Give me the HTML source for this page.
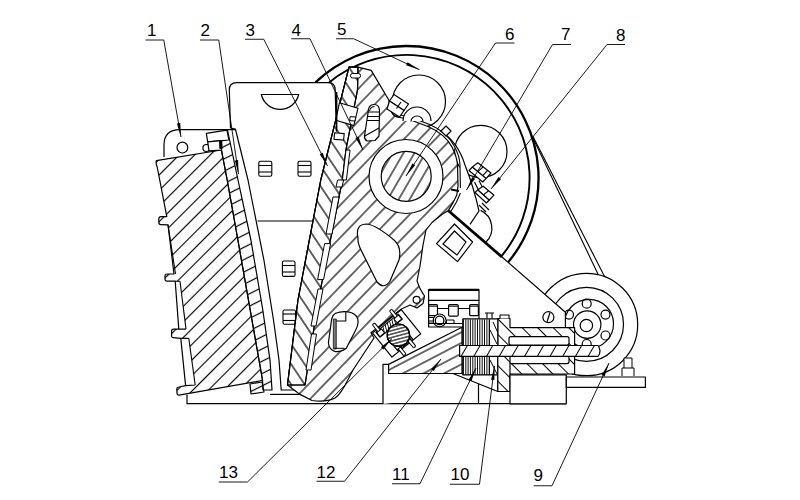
<!DOCTYPE html><html><head><meta charset="utf-8"><style>html,body{margin:0;padding:0;background:#fff;}svg{display:block;}</style></head><body>
<svg width="800" height="500" viewBox="0 0 800 500">
<defs><pattern id="hA" patternUnits="userSpaceOnUse" width="11" height="11" patternTransform="rotate(45) translate(10.748304065640582,0)"><line x1="5.5" y1="-1" x2="5.5" y2="12" stroke="#000" stroke-width="1.15"/></pattern><pattern id="hP" patternUnits="userSpaceOnUse" width="11.3" height="11.3" patternTransform="rotate(44) translate(8.66182700885522,0)"><line x1="5.65" y1="-1" x2="5.65" y2="12.3" stroke="#000" stroke-width="1.15"/></pattern><pattern id="h3" patternUnits="userSpaceOnUse" width="11.2" height="11.2" patternTransform="rotate(-33.7) translate(0.9572872405119526,0)"><line x1="5.6" y1="-1" x2="5.6" y2="12.2" stroke="#000" stroke-width="1.2"/></pattern><pattern id="h2" patternUnits="userSpaceOnUse" width="11" height="11" patternTransform="rotate(63.4) translate(5.8751051131268355,0)"><line x1="5.5" y1="-1" x2="5.5" y2="12" stroke="#000" stroke-width="1.2"/></pattern><pattern id="hS" patternUnits="userSpaceOnUse" width="9.5" height="9.5" patternTransform="rotate(30) translate(3.2054211030639976,0)"><line x1="4.75" y1="-1" x2="4.75" y2="10.5" stroke="#000" stroke-width="1.15"/></pattern><pattern id="hH" patternUnits="userSpaceOnUse" width="3.3" height="3.3" patternTransform="rotate(75) translate(0,0)"><line x1="1.65" y1="-1" x2="1.65" y2="4.3" stroke="#000" stroke-width="1.1"/></pattern><pattern id="hW" patternUnits="userSpaceOnUse" width="9.5" height="9.5" patternTransform="rotate(62.5) translate(8.974078355794745,0)"><line x1="4.75" y1="-1" x2="4.75" y2="10.5" stroke="#000" stroke-width="1.15"/></pattern><pattern id="hT" patternUnits="userSpaceOnUse" width="2.6" height="2.6" patternTransform="rotate(25) translate(0,0)"><line x1="1.3" y1="-1" x2="1.3" y2="3.6" stroke="#000" stroke-width="0.9"/></pattern><pattern id="hR" patternUnits="userSpaceOnUse" width="11" height="11" patternTransform="rotate(-45) translate(0,0)"><line x1="5.5" y1="-1" x2="5.5" y2="12" stroke="#000" stroke-width="1.0"/></pattern><pattern id="hQ" patternUnits="userSpaceOnUse" width="11" height="11" patternTransform="rotate(30) translate(0,0)"><line x1="5.5" y1="-1" x2="5.5" y2="12" stroke="#000" stroke-width="1.0"/></pattern></defs>
<rect width="800" height="500" fill="#fff"/>
<g fill="none" stroke="#000" stroke-width="1.2" stroke-linejoin="round">
<!-- flywheel -->
<path d="M315.5,82.4 A132,132 0 0,1 508.1,262.3" stroke-width="2.3"/>
<path d="M329.1,82.4 A123,123 0 0,1 501.3,256.4" stroke-width="1.9"/>
<!-- circles inside flywheel -->
<circle cx="419" cy="101.5" r="26.5"/>
<circle cx="480.8" cy="151.5" r="26.2"/>
<!-- belt -->
<line x1="532" y1="136" x2="607.5" y2="294" stroke-width="1.1"/>
<line x1="533" y1="136.5" x2="613.5" y2="294" stroke-width="1.1"/>
<!-- motor pulley -->
<circle cx="586.5" cy="324.5" r="51.2" fill="#fff"/>
<circle cx="586.5" cy="324.3" r="37" />
<circle cx="589" cy="323.8" r="24.5"/>
<circle cx="587.2" cy="324.6" r="13.7"/>
<circle cx="586.4" cy="325.5" r="6.2"/>
<circle cx="586.7" cy="303.7" r="4.5"/>
<circle cx="605.5" cy="314.6" r="4.5"/>
<circle cx="605.5" cy="335.5" r="4.5"/>
<circle cx="569" cy="314.6" r="4.5"/>
<circle cx="586.7" cy="344" r="4.5"/>
</g>
<!-- frame right side plate (white) -->
<path d="M447,209.5 L502,257 L565.4,312.2 L565.4,329 L430,329 L420,280 L426,230 Z" fill="#fff" stroke="none"/>
<!-- bearing bracket white region -->
<path d="M437,129 Q458,142 465,165 Q474,188 479,211 L470,224.4 L449,211 L458.5,189 L460,163 Q457,150 450,141 Z" fill="#fff" stroke="none"/>
<g fill="none" stroke="#000" stroke-width="1.2" stroke-linejoin="round">
<path d="M440,130.5 Q458,142 465,165 Q474,188 479,211 L470,224.4"/>
<path d="M480.6,210.4 A19.5,19.5 0 0,1 486,242"/>
<path d="M447,209.5 L502,257" stroke-width="2.8"/>
<path d="M502,257 L565.4,312.2 L565.4,328"/>
<circle cx="548.4" cy="317.2" r="5.5" fill="#fff"/>
<line x1="547" y1="322" x2="550" y2="312.5"/>
<!-- diamond -->
<path d="M436.5,243.6 L454.5,224 L472.6,242 L457.5,261.6 Z" fill="#fff"/>
<path d="M443,244 L454.5,231 L466,242 L457,255 Z"/>
<!-- bolts 7/8 -->
<g fill="#fff" stroke-width="1.15">
<path d="M469,170.5 L472.4,167 L486.2,178.4 L482.8,182 Z"/>
<path d="M472.4,167 L477.8,162.8 L491,173 L486.2,178.4 Z"/>
<line x1="477.9" y1="171.6" x2="483.1" y2="166.9"/><line x1="482.75" y1="175.55" x2="487.7" y2="170.45"/>
<path d="M474.5,182 L478,189 M479,180.5 L482.5,187.5" fill="none"/>
<path d="M475,192.5 L477.8,189.8 L489.2,200 L486.4,203 Z"/>
<path d="M477.8,189.8 L483.2,186.2 L494,195.2 L489.2,200 Z"/>
<line x1="483.5" y1="194.9" x2="488.6" y2="190.7"/>
<path d="M479,205 L486,212 M482,203 L489,210" fill="none"/>
</g>
</g>
</g>
<g fill="none" stroke="#000" stroke-width="1.2" stroke-linejoin="round">
<!-- side plate (unhatched) -->
<path d="M229.3,90 Q229.3,82.6 236.5,82.6 L328,82.6 Q335.2,82.8 335.2,90 L336.3,131 L313.5,221 L296,390 L281.2,390 L279,360 L273.5,320 L268.7,290 L263.9,260 L248,180 L235.4,129 L230.5,128 Z" fill="#fff"/>
<line x1="257.5" y1="221" x2="313.5" y2="221"/>
<path d="M261.3,94.5 L298.7,94.5 A19.2,19.2 0 0,1 261.3,94.5 Z"/>
<g stroke-width="1.1">
<rect x="258.8" y="161.3" width="13" height="15" rx="1.5"/><line x1="258.8" y1="165.5" x2="271.8" y2="165.5"/><line x1="258.8" y1="172" x2="271.8" y2="172"/>
<rect x="298" y="161.3" width="13" height="15" rx="1.5"/><line x1="298" y1="165.5" x2="311" y2="165.5"/><line x1="298" y1="172" x2="311" y2="172"/>
<rect x="282.4" y="261" width="12.6" height="15.4" rx="1.5"/><line x1="282.4" y1="265.5" x2="295" y2="265.5"/><line x1="282.4" y1="272" x2="295" y2="272"/>
<rect x="283" y="310" width="12.5" height="14.2" rx="1.5"/><line x1="283" y1="314" x2="295.5" y2="314"/><line x1="283" y1="320.5" x2="295.5" y2="320.5"/>
</g>
</g>
<g stroke="#000" stroke-width="1.2" stroke-linejoin="round">
<!-- fixed jaw ear -->
<path d="M164,157 L164,145 Q164,129.6 180,129.6 L235.4,129.6" fill="none"/>
<circle cx="182.4" cy="147.6" r="5.4" fill="none"/>
<circle cx="206.4" cy="148" r="3.5" fill="none"/>
<!-- fixed jaw block hatched -->
<path d="M156.4,160.6 L221.4,150 L227.2,180 L237.9,240 L250.2,310 L262.5,380 L258.7,381.2 L179,395.2 Q177,395.2 177,393 L176.8,389 Q176.8,387.2 179,387 L185.6,385.6 L180.8,338.4 L173,337.6 Q171.6,337.5 171.6,336 L171.6,331 Q171.6,329.1 173.5,329.1 L178.8,329.1 L175.2,281.2 L167,281.2 Q165,281.2 165,279 L165,276 Q165,274 167,274 L174,274 L168,224.8 L160.8,224.6 Q158.8,224.6 158.8,222 L158.8,219 Q158.8,216.6 161,216.6 L166.8,216.6 L157.2,167 Q155.5,163 156.4,160.6 Z" fill="#fff" stroke="none"/>
<path d="M156.4,160.6 L221.4,150 L227.2,180 L237.9,240 L250.2,310 L262.5,380 L258.7,381.2 L179,395.2 Q177,395.2 177,393 L176.8,389 Q176.8,387.2 179,387 L195.2,385 L188.8,338.4 L173,337.6 Q171.6,337.5 171.6,336 L171.6,331 Q171.6,329.1 173.5,329.1 L186,329.1 L180,281.2 L167,281.2 Q165,281.2 165,279 L165,276 Q165,274 167,274 L175.5,274 L168,224.8 L160.8,224.6 Q158.8,224.6 158.8,222 L158.8,219 Q158.8,216.6 161,216.6 L166.8,216.6 L157.2,167 Q155.5,163 156.4,160.6 Z" fill="url(#hA)" stroke="none"/>
<path d="M156.4,160.6 L221.4,150 L227.2,180 L237.9,240 L250.2,310 L262.5,380 L258.7,381.2 L179,395.2 Q177,395.2 177,393 L176.8,389 Q176.8,387.2 179,387 L185.6,385.6 L180.8,338.4 L173,337.6 Q171.6,337.5 171.6,336 L171.6,331 Q171.6,329.1 173.5,329.1 L178.8,329.1 L175.2,281.2 L167,281.2 Q165,281.2 165,279 L165,276 Q165,274 167,274 L174,274 L168,224.8 L160.8,224.6 Q158.8,224.6 158.8,222 L158.8,219 Q158.8,216.6 161,216.6 L166.8,216.6 L157.2,167 Q155.5,163 156.4,160.6 Z" fill="none"/>
<path d="M168,224.8 L175.5,274 M180,281.2 L186,329.1 M186,329.1 L178.8,329.1 M188.8,338.4 L195.2,385 M185.6,385.6 L195.2,385 M175.2,281.2 L180,281.2 M180.8,338.4 L188.8,338.4" fill="none" stroke-width="1.1"/>
<!-- plate 2 strip -->
<path d="M219.8,141.6 L227.5,130 L238,180 L250.9,240 L262.8,310 L270,360 L272,390 L263,390 L262.5,380 L250.2,310 L237.9,240 L227.2,180 Z" fill="url(#h2)"/>
<!-- clamp rectangle at top -->
<path d="M206.3,133.4 L226.9,130.2 L228.9,140 L220,140.8 L207.7,141.8 Z" fill="#fff"/>
<path d="M207.7,141.8 L221,140.7 L221.6,150 L209,150.9 Z" fill="#fff"/>
<path d="M219.4,141 L221.8,140.8 L222.2,148.5 L219.8,148.7 Z" fill="#000" stroke-width="0.8"/>
<!-- bottom plate2 pieces -->
<path d="M250,384 L262,382 L264,392 L251,394 Z" fill="url(#h2)"/>
<path d="M270,394.4 L300,394.4" fill="none"/>
</g>
<g stroke="#000" stroke-width="1.2" stroke-linejoin="round">
<!-- base -->
<path d="M187,394.7 L187,403.7 L566,403.7" fill="none"/>
<!-- pitman body -->
<path d="M349,67.2 L358,67.2 L371.2,70.4 L388.8,100 L391,110 Q392,115 397,117 L408,119 L428,126.5 Q445,134 452,147 Q457,157 457.5,165 L458,186 L456.8,195 L452.6,203.4 L448.4,210.4 L442.5,214 L432,222.5 L426,230 L423,245 L420,266 L417,281 L420,288.6 L424.5,296 L423,303.6 L417,308 L410,305 L401.4,309 L371,332.6 L374,338 L353,370 C347,381 342,394 335,398 Q326,402.5 312,400.5 L300,394.4 L287.5,385 L298,300 L320.8,180 L349,67.2 Z" fill="#fff" stroke="none"/>
<path d="M349,67.2 L358,67.2 L371.2,70.4 L388.8,100 L391,110 Q392,115 397,117 L408,119 L428,126.5 Q445,134 452,147 Q457,157 457.5,165 L458,186 L456.8,195 L452.6,203.4 L448.4,210.4 L442.5,214 L432,222.5 L426,230 L423,245 L420,266 L417,281 L420,288.6 L424.5,296 L423,303.6 L417,308 L410,305 L401.4,309 L371,332.6 L374,338 L353,370 C347,381 342,394 335,398 Q326,402.5 312,400.5 L300,394.4 L287.5,385 L298,300 L320.8,180 L349,67.2 Z" fill="url(#hP)"/>
<circle cx="416.6" cy="299.8" r="3.5" fill="#fff"/>
<!-- strap inner line -->
<path d="M395,114 L409,116.8 L429,124.3 Q447,132 454.2,146 Q459.7,156 460,165 L460.4,188 M460.4,193 L456.5,202 L450.8,211.5" fill="none" stroke-width="1.1"/>
<path d="M451,189.5 L459,191" fill="none" stroke-width="2"/>
<!-- nut near pitman top -->
<path d="M389.5,101 L394,94.5 L408.5,104 L404,110.5 Z" fill="#fff"/>
<path d="M389.5,101 L404,110.5 L399.5,117 L387,109 Z" fill="#fff"/>
<line x1="401" y1="102" x2="396.5" y2="108.5"/>
<!-- washer -->
<path d="M403,121 A14,14 0 0,1 431,121" fill="#fff"/>
<path d="M411,121.5 A6,5.5 0 0,1 423,121.5" fill="none"/>
<!-- small square -->
<path d="M441,131 L446,126 L451,131 L446,136 Z" fill="#fff"/>
<!-- plate 3 -->
<path d="M349,67.2 L358,67.2 L357.5,90 L346,149.5 L342.4,180 L318.4,300 L305,385 L287.5,385 L298,300 L320.8,180 Z" fill="#fff"/>
<path d="M349,67.2 L358,67.2 L357.5,90 L346,149.5 L342.4,180 L318.4,300 L305,385 L287.5,385 L298,300 L320.8,180 Z" fill="url(#h3)"/>
<!-- plate3 slots -->
<g fill="#fff" stroke-width="1">
<path d="M346,150 L350,150 L346.4,180 L342.4,180 Z"/>
<path d="M337.6,180 L343.6,180 L342,187 L336,187 Z"/>
<path d="M333,197 L339,197 L332,234 L326,234 Z"/>
<path d="M324.6,243.6 L330.6,243.6 L323.6,279.6 L317.6,279.6 Z"/>
<path d="M318,289 L323,289 L316,326 L311,326 Z"/>
<path d="M311.5,334 L316.5,334 L311,370 L306,370 Z"/>
</g>
<!-- wedge pieces at top of plate 3 -->
<path d="M339.4,102.8 L358,108.2 L353.8,125.6 L335.8,120.2 Z" fill="#fff" stroke-width="1.1"/>
<path d="M350.2,116.6 L355.8,117 L355,121 L349.6,120.6 Z" fill="#fff" stroke-width="1"/>
<path d="M334.6,132.8 L344.2,133.6 L343.6,140 L334,139.4 Z" fill="#fff" stroke-width="1.1"/>
<line x1="336.6" y1="92" x2="336.6" y2="131.6" stroke-width="1.6"/>
<rect x="350.5" y="73.5" width="10" height="4.5" rx="2" fill="#fff" stroke-width="1"/>
<!-- eccentric -->
<circle cx="406" cy="176.5" r="37" fill="#fff"/>
<circle cx="406.2" cy="176.3" r="25" fill="url(#hS)"/>
<!-- triangular hole -->
<path d="M358,238 Q355,224 367,224 Q376,225 394,240 Q402,247 399,260 L390,281 Q384,290 377,282 L361,250 Q357.5,243 358,238 Z" fill="#fff"/>
<!-- slot in pitman top -->
<path d="M368,113 Q368,104.5 374,104.5 Q379.5,104.5 379.5,111 L379,136 L375,140.5 L367,141 Q364,139 364.5,136 Z" fill="#fff"/>
<path d="M368,112 H379.5 M367.5,116.5 H379.4 M367,120.5 H379.3 M364.8,136 L379,128 M369.5,111 Q370.5,106.5 374.5,106.5" fill="none" stroke-width="1.1"/>
<!-- oval slot lower -->
<path d="M335.6,313.2 Q341,311 348,311.8 Q356,313 357.8,319 Q359,324 355,331.5 L346.4,348 Q342,352 335.6,351.6 Q329,350 328.4,343 L331.5,320 Q332.5,315 335.6,313.2 Z" fill="#fff"/>
<path d="M334.4,321 L345.8,321 L345.8,312" fill="none" stroke-width="1.1"/>
<rect x="333.3" y="319" width="3" height="30" fill="#777" stroke="#000" stroke-width="0.7"/>
<path d="M334.4,348.3 L344.5,348.3" fill="none" stroke-width="1"/>
</g>
<g stroke="#000" stroke-width="1.2" stroke-linejoin="round">
<!-- toggle block -->
<g transform="translate(396.6,333.4) rotate(-38.9)">
<rect x="-18.5" y="-15.5" width="37" height="31" fill="#fff"/>
<rect x="-15.5" y="-14" width="29" height="6.5" fill="url(#hT)" stroke-width="1"/>
<rect x="-10" y="8" width="19" height="6.5" fill="url(#hT)" stroke-width="1"/>
<g fill="#fff" stroke-width="1">
<rect x="-13.5" y="-22" width="3" height="10" rx="1"/><rect x="-15" y="-13" width="6" height="5"/>
<rect x="8.5" y="-22" width="3" height="10" rx="1"/><rect x="7" y="-13" width="6" height="5"/>
<rect x="-8.5" y="12" width="3" height="10" rx="1"/><rect x="-10" y="8" width="6" height="5"/>
<rect x="4" y="12" width="3" height="10" rx="1"/><rect x="2.5" y="8" width="6" height="5"/>
</g>
</g>
<circle cx="398.4" cy="335.2" r="11.2" fill="#fff"/>
<circle cx="398.4" cy="335.2" r="11.2" fill="url(#hH)"/>
<!-- base block -->
<path d="M383,404 L383,364.4 L388.6,364.4 L388.6,373.5 L497.8,373.5 L497.8,391.5" fill="#fff"/>
<path d="M453,373.5 L497.8,391.5 M478.5,383.5 L478.5,404" fill="none"/>
<!-- wedge -->
<path d="M388.6,373.5 L388.6,364.4 L462,327.2 L462,373.5 Z" fill="#fff" stroke="none"/>
<path d="M388.6,373.5 L388.6,364.4 L462,327.2 L462,373.5 Z" fill="url(#hW)"/>
<!-- tension box -->
<rect x="428.6" y="289.7" width="50.4" height="37.3" fill="#fff"/>
<line x1="428.6" y1="289.9" x2="479" y2="289.9" stroke-width="2.2"/>
<line x1="428.6" y1="300.3" x2="479" y2="300.3"/>
<line x1="437.5" y1="308.5" x2="469.7" y2="308.5"/>
<rect x="428.8" y="304.6" width="8.7" height="11.1" rx="1" fill="#fff"/>
<rect x="448.6" y="304.6" width="9.6" height="11.6" rx="1.2" fill="#fff"/>
<rect x="469.7" y="304.6" width="8.7" height="11.1" rx="1" fill="#fff"/>
<path d="M428.8,306.2 H437.5 M448.6,306.2 H458.2 M469.7,306.2 H478.4" stroke-width="1"/>
<circle cx="439.6" cy="320.4" r="6.4" fill="#fff" stroke-width="1.1"/>
<circle cx="439.6" cy="320.4" r="4.3" fill="none" stroke-width="1.3"/>
<path d="M429,317.5 H433.5 V321 H429 M429,323 H433.5 M446.5,320 H454 V323.5 H446.5 Z" fill="none" stroke-width="1"/>
<line x1="429" y1="323.5" x2="478.5" y2="323.5"/>
<!-- spring stack -->
<rect x="462.8" y="318.8" width="35.2" height="56" fill="#fff"/>
<path d="M463.4,319.5V375M465.8,319.5V375M468.1,319.5V375M470.4,319.5V375M472.8,319.5V375M475.1,319.5V375M477.5,319.5V375M479.8,319.5V375M482.2,319.5V375M484.5,319.5V375M486.9,319.5V375M489.2,319.5V375" stroke-width="0.95"/>
<path d="M489.5,319.5V375 M490,330 L497,344 M493,322 L498,333 M490,360 L497,374" stroke-width="1" fill="none"/>
<!-- housing -->
<path d="M498,318.5 L510,318.5 L510,327.6 L574.6,327.6 L574.6,346 L498,346 Z" fill="#fff" stroke="none"/>
<path d="M498,318.5 L510,318.5 L510,327.6 L574.6,327.6 L574.6,346 L498,346 Z" fill="url(#hR)"/>
<path d="M498,356 L574.6,356 L574.6,374 L498,374 Z" fill="#fff" stroke="none"/>
<path d="M498,356 L574.6,356 L574.6,374 L498,374 Z" fill="url(#hR)"/>
<rect x="509" y="336.6" width="60" height="8.4" rx="2" fill="#fff"/>
<rect x="509" y="356" width="60" height="7.6" rx="2" fill="#fff"/>
<path d="M497.8,356 L510,356 L510,391.5 L497.8,391.5 Z" fill="#fff" stroke="none"/>
<path d="M497.8,356 L510,356 L510,391.5 L497.8,391.5 Z" fill="url(#hR)"/>
<!-- rod -->
<path d="M459.6,345.5 L598,345.5 Q602,351 598,356.4 L459.6,356.4 Z" fill="#fff" stroke="none"/>
<path d="M459.6,345.5 L598,345.5 Q602,351 598,356.4 L459.6,356.4 Z" fill="url(#hQ)"/>
<!-- base right -->
<rect x="510" y="374.9" width="56.3" height="28.9" fill="#fff"/>
<rect x="566.3" y="377" width="79.1" height="10.4" fill="#fff"/>
<path d="M622,376 L622,368 L634,368 L634,376 M624,368 L624,358 L632,358 L632,368" fill="#fff" stroke-width="1"/>
<!-- small bolts on top -->
<path d="M487,318.5 L487,313 L492,313 L492,318.5 M485,313 L494,313" fill="none" stroke-width="1.1"/>
<path d="M500,318.5 L500,315 L509,315 L509,318.5" fill="#fff" stroke-width="1.1"/>
</g>

<text x="147" y="35.5" font-family="Liberation Sans, sans-serif" font-size="17" fill="#000">1</text><text x="200.5" y="35.5" font-family="Liberation Sans, sans-serif" font-size="17" fill="#000">2</text><text x="245.5" y="35.5" font-family="Liberation Sans, sans-serif" font-size="17" fill="#000">3</text><text x="291.5" y="35.5" font-family="Liberation Sans, sans-serif" font-size="17" fill="#000">4</text><text x="337" y="34.5" font-family="Liberation Sans, sans-serif" font-size="17" fill="#000">5</text><text x="505" y="39.5" font-family="Liberation Sans, sans-serif" font-size="17" fill="#000">6</text><text x="561" y="40" font-family="Liberation Sans, sans-serif" font-size="17" fill="#000">7</text><text x="616" y="40.5" font-family="Liberation Sans, sans-serif" font-size="17" fill="#000">8</text><text x="219" y="478" font-family="Liberation Sans, sans-serif" font-size="17" fill="#000">13</text><text x="316.5" y="478" font-family="Liberation Sans, sans-serif" font-size="17" fill="#000">12</text><text x="392" y="480" font-family="Liberation Sans, sans-serif" font-size="17" fill="#000">11</text><text x="450.5" y="480" font-family="Liberation Sans, sans-serif" font-size="17" fill="#000">10</text><text x="533.5" y="481" font-family="Liberation Sans, sans-serif" font-size="17" fill="#000">9</text><polyline points="145.5,40 163.75,40 181,137" fill="none" stroke="#000" stroke-width="0.9"/><polyline points="200,40 218.75,40 238.5,174" fill="none" stroke="#000" stroke-width="0.9"/><polyline points="245,39.25 263.75,39.25 327.5,166" fill="none" stroke="#000" stroke-width="0.9"/><polyline points="291.25,38.75 310,38.75 363,150" fill="none" stroke="#000" stroke-width="0.9"/><polyline points="336,38.75 353.75,38.75 419.5,69.7" fill="none" stroke="#000" stroke-width="0.9"/><polyline points="514.5,43 495.5,43 406,176" fill="none" stroke="#000" stroke-width="0.9"/><polyline points="571,44.5 552.5,44.5 466.5,190" fill="none" stroke="#000" stroke-width="0.9"/><polyline points="625,44.5 607,44.5 491,189" fill="none" stroke="#000" stroke-width="0.9"/><polyline points="218.75,482 247.5,482 392,338.5" fill="none" stroke="#000" stroke-width="0.9"/><polyline points="316.5,481.25 344.5,481.25 441,359" fill="none" stroke="#000" stroke-width="0.9"/><polyline points="392,483.75 420,483.75 476,368" fill="none" stroke="#000" stroke-width="0.9"/><polyline points="450,484.25 479.5,484.25 494.5,366" fill="none" stroke="#000" stroke-width="0.9"/><polyline points="533.75,485.75 552,485.75 609,363" fill="none" stroke="#000" stroke-width="0.9"/>
<polygon points="181,137 176.9,123.5 180.2,122.9" fill="#000"/><polygon points="238.5,174 234.8,160.4 238.1,159.9" fill="#000"/><polygon points="327.5,166 319.7,154.3 322.7,152.7" fill="#000"/><polygon points="363,150 355.4,138.1 358.5,136.6" fill="#000"/><polygon points="419.5,69.7 406.1,65.3 407.6,62.2" fill="#000"/><polygon points="406,176 412.4,163.4 415.2,165.3" fill="#000"/><polygon points="466.5,190 472.2,177.1 475.1,178.8" fill="#000"/><polygon points="491,189 498.4,177.0 501.1,179.1" fill="#000"/><polygon points="392,338.5 383.3,349.6 380.9,347.2" fill="#000"/><polygon points="441,359 433.7,371.0 431.0,368.9" fill="#000"/><polygon points="476,368 471.4,381.3 468.4,379.9" fill="#000"/><polygon points="494.5,366 494.4,380.1 491.1,379.7" fill="#000"/><polygon points="609,363 604.6,376.4 601.6,375.0" fill="#000"/>
</svg></body></html>
